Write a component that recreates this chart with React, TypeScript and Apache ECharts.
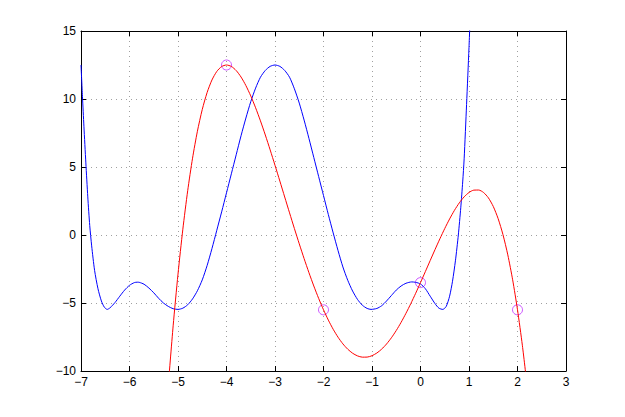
import React, { useEffect, useRef } from "react";
import * as echarts from "echarts";

// Blue curve samples
const blueX = [
  -7.0, -6.97, -6.94, -6.9, -6.86, -6.82, -6.78, -6.72, -6.65, -6.58, -6.52, -6.46,
  -6.4, -6.3, -6.2, -6.1, -6.0, -5.9, -5.84, -5.8, -5.7, -5.6, -5.5, -5.4, -5.3,
  -5.2, -5.1, -5.0, -4.9, -4.8, -4.7, -4.6, -4.5, -4.4, -4.3, -4.2, -4.1, -4.0,
  -3.9, -3.8, -3.7, -3.6, -3.5, -3.4, -3.3, -3.2, -3.1, -3.0, -2.9, -2.8, -2.7,
  -2.6, -2.5, -2.4, -2.3, -2.2, -2.1, -2.0, -1.9, -1.8, -1.7, -1.6, -1.5, -1.4,
  -1.3, -1.2, -1.1, -1.02, -0.9, -0.8, -0.7, -0.6, -0.5, -0.4, -0.3, -0.18,
  -0.1, 0.0, 0.1, 0.2, 0.3, 0.38, 0.46, 0.53, 0.6, 0.66, 0.72, 0.78, 0.83, 0.87,
  0.9, 0.95, 1.0, 1.03,
];
const blueY = [
  12.5, 10.2, 8.0, 5.3, 2.8, 0.7, -0.8, -2.6, -3.95, -4.85, -5.3, -5.47,
  -5.35, -4.97, -4.5, -4.05, -3.7, -3.5, -3.47, -3.48, -3.62, -3.9, -4.25, -4.65, -5.0,
  -5.25, -5.42, -5.47, -5.38, -5.13, -4.7, -4.1, -3.3, -2.25, -1.0, 0.35, 1.7, 3.1,
  4.5, 5.9, 7.3, 8.6, 9.8, 10.8, 11.6, 12.1, 12.4, 12.5, 12.4, 12.1, 11.6,
  10.75, 9.7, 8.45, 7.1, 5.7, 4.3, 2.9, 1.5, 0.15, -1.15, -2.35, -3.33, -4.12,
  -4.73, -5.16, -5.4, -5.47, -5.4, -5.2, -4.85, -4.45, -4.05, -3.75, -3.55, -3.45,
  -3.48, -3.6, -3.95, -4.5, -5.05, -5.38, -5.47, -5.25, -4.5, -3.4, -1.9, 0.0, 2.0, 3.9,
  5.6, 9.6, 13.8, 16.6,
];

// Red curve samples
const redX = [
  -5.2, -5.1, -5.0, -4.9, -4.8, -4.7, -4.6, -4.5, -4.4, -4.3, -4.2, -4.1, -4.0,
  -3.9, -3.8, -3.7, -3.6, -3.5, -3.4, -3.3, -3.2, -3.1, -3.0, -2.9, -2.8, -2.7,
  -2.6, -2.5, -2.4, -2.3, -2.2, -2.1, -2.0, -1.9, -1.8, -1.7, -1.6, -1.5, -1.4,
  -1.3, -1.2, -1.1, -1.0, -0.9, -0.8, -0.7, -0.6, -0.5, -0.4, -0.3, -0.2, -0.1,
  0.0, 0.1, 0.2, 0.3, 0.4, 0.5, 0.6, 0.7, 0.8, 0.9, 1.0, 1.1, 1.2, 1.3, 1.4, 1.5,
  1.6, 1.7, 1.8, 1.9, 2.0, 2.1, 2.2,
];
const redY = [
  -11.03, -6.68, -2.875, 0.428, 3.258, 5.648, 7.627, 9.227, 10.474, 11.399, 12.027,
  12.386, 12.5, 12.394, 12.091, 11.615, 10.986, 10.227, 9.355, 8.392, 7.354, 6.26,
  5.125, 3.965, 2.794, 1.627, 0.475, -0.648, -1.734, -2.77, -3.749, -4.661, -5.5,
  -6.259, -6.933, -7.516, -8.006, -8.398, -8.693, -8.887, -8.982, -8.977, -8.875,
  -8.678, -8.39, -8.014, -7.557, -7.023, -6.422, -5.759, -5.045, -4.288, -3.5,
  -2.692, -1.877, -1.067, -0.278, 0.477, 1.179, 1.814, 2.362, 2.806, 3.125, 3.299,
  3.306, 3.125, 2.731, 2.102, 1.21, 0.032, -1.461, -3.295, -5.5, -8.105, -11.141,
];

// Marked points (circles)
const markX = [-4, -2, 0, 2];
const markY = [12.5, -5.5, -3.5, -5.5];

const xMin = -7;
const xMax = 3;
const yMin = -10;
const yMax = 15;

export default function App() {
  const ref = useRef<HTMLDivElement>(null);
  useEffect(() => {
    const chart = echarts.init(ref.current!, null, { renderer: "svg" });
    const fmt = (v: number) => String(v).replace("-", "\u2212");
    const font = "'Liberation Sans', Arial, Helvetica, sans-serif";
    const line = { show: true, onZero: false, lineStyle: { color: "#000", width: 1 } };
    const tick = { show: true, inside: true, length: 5, lineStyle: { color: "#000", width: 1 } };
    const grid = { show: true, lineStyle: { color: "#a0a0a0", width: 1, type: [1, 4] } };
    const label = { color: "#000", fontSize: 12, fontFamily: font, formatter: fmt };
    chart.setOption({
      animation: false,
      grid: { left: 81, top: 31, width: 485, height: 340, containLabel: false },
      xAxis: [
        {
          type: "value", min: xMin, max: xMax, interval: 1, position: "bottom",
          axisLine: line, axisTick: tick, axisLabel: { ...label, margin: 5 }, splitLine: grid,
        },
        {
          type: "value", min: xMin, max: xMax, interval: 1, position: "top",
          axisLine: line, axisTick: tick, axisLabel: { show: false }, splitLine: { show: false },
        },
      ],
      yAxis: [
        {
          type: "value", min: yMin, max: yMax, interval: 5, position: "left",
          axisLine: line, axisTick: tick, axisLabel: { ...label, margin: 5 }, splitLine: grid,
        },
        {
          type: "value", min: yMin, max: yMax, interval: 5, position: "right",
          axisLine: line, axisTick: tick, axisLabel: { show: false }, splitLine: { show: false },
        },
      ],
      series: [
        {
          type: "line", xAxisIndex: 0, yAxisIndex: 0, clip: true, smooth: 0.25,
          symbol: "none", data: blueX.map((x, i) => [x, blueY[i]]),
          lineStyle: { color: "#0000ff", width: 1 },
        },
        {
          type: "line", xAxisIndex: 0, yAxisIndex: 0, clip: true, smooth: 0.25,
          symbol: "none", data: redX.map((x, i) => [x, redY[i]]),
          lineStyle: { color: "#ff0000", width: 1 },
        },
        {
          type: "scatter", xAxisIndex: 0, yAxisIndex: 0, symbol: "circle", symbolSize: 10,
          data: markX.map((x, i) => [x, markY[i]]),
          itemStyle: { color: "rgba(0,0,0,0)", borderColor: "#c030ff", borderWidth: 1 },
        },
      ],
    });
    return () => chart.dispose();
  }, []);
  return (
    <div
      ref={ref}
      style={{ position: "fixed", left: 0, top: 0, width: 625, height: 417, background: "#fff" }}
    />
  );
}
